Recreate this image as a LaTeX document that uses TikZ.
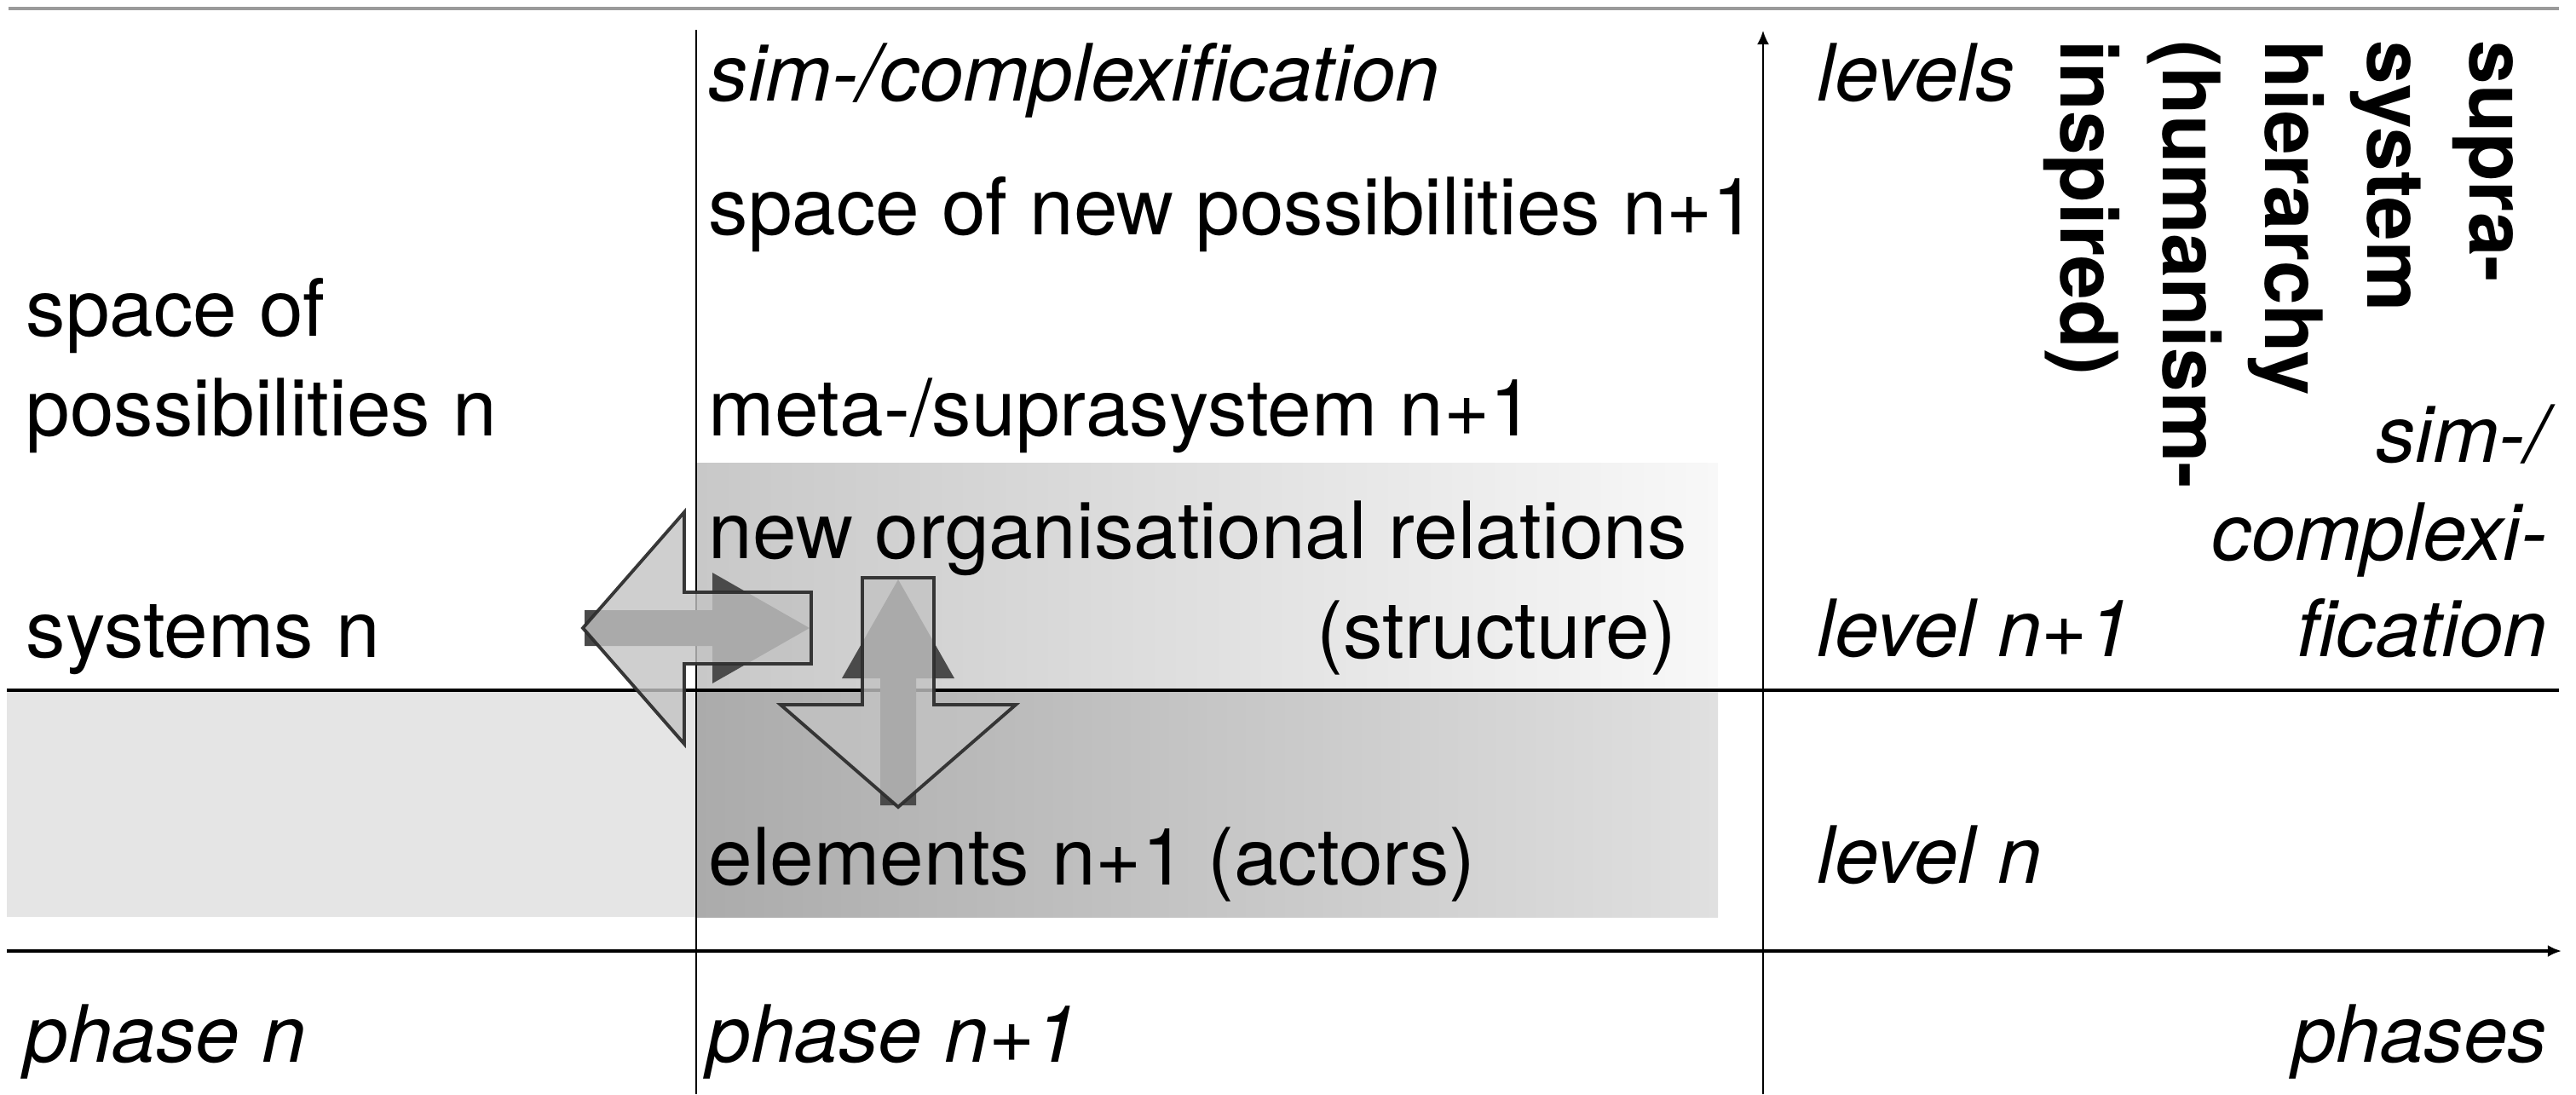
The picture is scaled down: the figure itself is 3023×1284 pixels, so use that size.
\documentclass[tikz,border=0pt]{standalone}
\usepackage{fontspec}
\setmainfont{TeX Gyre Heros}
\usetikzlibrary{arrows.meta}

\definecolor{panel}{HTML}{E5E5E5}
\definecolor{upL}{HTML}{C8C8C8}
\definecolor{upR}{HTML}{F8F8F8}
\definecolor{loL}{HTML}{ABABAB}
\definecolor{loR}{HTML}{E0E0E0}
\definecolor{solidarrow}{HTML}{4A4A4A}
\definecolor{hollowfill}{HTML}{C3C3C3}
\definecolor{hollowline}{HTML}{2E2E2E}
\definecolor{topline}{HTML}{9A9A9A}

\begin{document}
\begin{tikzpicture}[x=0.01cm,y=-0.01cm,
  lbl/.style={inner sep=0pt,font=\fontsize{26.4}{33}\selectfont},
  ilbl/.style={inner sep=0pt,font=\fontsize{26.4}{33}\selectfont\itshape},
  blbl/.style={inner sep=0pt,font=\fontsize{26.4}{33}\selectfont\bfseries,
               rotate=-90,anchor=base west},
  thinrule/.style={line width=0.55pt,black},
  midrule/.style={line width=0.9pt,black},
  axisline/.style={black,-{Latex[length=4.6pt,width=4pt]}},
  solidarr/.style={fill=solidarrow,draw=none},
  hollowarr/.style={fill=hollowfill,fill opacity=0.8,draw=hollowline,
                    draw opacity=0.95,line width=1.1pt,line join=miter}]

\useasboundingbox (0,0) rectangle (3023,1284);

% background bands
\fill[panel] (8,810) rectangle (817,1076);
\shade[left color=upL,right color=upR] (817,543) rectangle (2016,810);
\shade[left color=loL,right color=loR] (817,810) rectangle (2016,1076);

% frame lines and axes
\draw[topline,line width=1.3pt] (10,10) -- (3003,10);
\draw[thinrule] (817,35) -- (817,1284);
\draw[axisline,line width=0.55pt] (2069,1284) -- (2069,36);
\draw[midrule] (8,810) -- (3003,810);
\draw[axisline,line width=1.1pt] (8,1116) -- (3006,1116);

% column of phase n
\node[lbl,anchor=base west] (spaceof) at (30,394) {space of};
\node[lbl,anchor=base west] (possn) at (30,511) {possibilities n};
\node[lbl,anchor=base west] (sysn) at (30,771) {systems n};
\node[ilbl,anchor=base west] (phasen) at (28,1246) {phase n};

% column of phase n+1
\node[ilbl,anchor=base west] (simcomp) at (831,118) {sim-/complexification};
\node[lbl,anchor=base west] (newspace) at (831,275) {space of new possibilities n+1};
\node[lbl,anchor=base west] (meta) at (831,511) {meta-/suprasystem n+1};
\node[lbl,anchor=base west] (neworg) at (831,655) {new organisational relations};
\node[lbl,anchor=base east] (struct) at (1968,772) {(structure)};
\node[lbl,anchor=base west] (elem) at (831,1038) {elements n+1 (actors)};
\node[ilbl,anchor=base west] (phasen1) at (829,1246) {phase n+1};

% axis labels
\node[ilbl,anchor=base west] (levels) at (2132,118) {levels};
\node[ilbl,anchor=base west] (leveln1) at (2132,770) {level n+1};
\node[ilbl,anchor=base west] (leveln) at (2132,1036) {level n};
\node[ilbl,anchor=base east] (simA) at (2990,542) {sim-/};
\node[ilbl,anchor=base east] (simB) at (2990,657) {complexi-};
\node[ilbl,anchor=base east] (simC) at (2990,770) {fication};
\node[ilbl,anchor=base east] (phases) at (2990,1246) {phases};

% vertical heading
\node[blbl] (hA) at (2898,47) {supra-};
\node[blbl] (hB) at (2778,47) {system};
\node[blbl] (hC) at (2658,47) {hierarchy};
\node[blbl] (hD) at (2538,47) {(humanism-};
\node[blbl] (hE) at (2418,47) {inspired)};

% solid arrows
\path[solidarr] (686,716) -- (836,716) -- (836,672) -- (950,737)
  -- (836,802) -- (836,758) -- (686,758) -- cycle;
\path[solidarr] (1033,945) -- (1033,796) -- (988,796) -- (1054,680)
  -- (1120,796) -- (1075,796) -- (1075,945) -- cycle;

% hollow arrows
\draw[hollowarr] (684,737) -- (803,601) -- (803,695) -- (952,695)
  -- (952,779) -- (803,779) -- (803,873) -- cycle;
\draw[hollowarr] (1054,947) -- (916,827) -- (1012,827) -- (1012,678)
  -- (1096,678) -- (1096,827) -- (1192,827) -- cycle;

\end{tikzpicture}
\end{document}
